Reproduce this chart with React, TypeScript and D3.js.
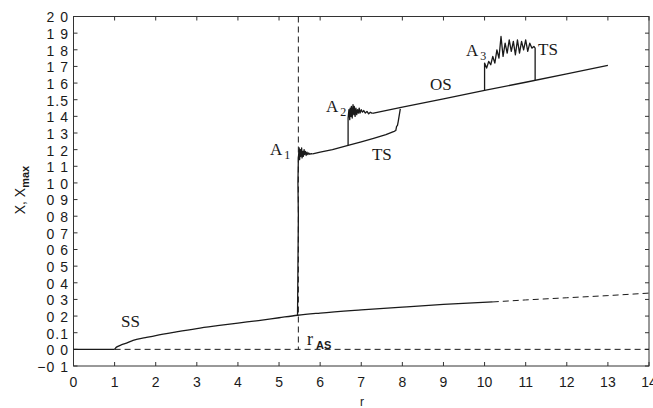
import React from 'react';
import * as d3 from 'd3';

const W = 653;
const H = 408;

const xTicks = [0, 1, 2, 3, 4, 5, 6, 7, 8, 9, 10, 11, 12, 13, 14];
const yTicks = [-0.1, 0, 0.1, 0.2, 0.3, 0.4, 0.5, 0.6, 0.7, 0.8, 0.9, 1.0, 1.1, 1.2, 1.3, 1.4, 1.5, 1.6, 1.7, 1.8, 1.9, 2.0];
const yTickLabels = ['−0 1', '0 0', '0.1', '0 2', '0 3', '0 4', '0 5', '0 6', '0 7', '0 8', '0 9', '1 0', '1 1', '1 2', '1 3', '1 4', '1.5', '1 6', '1 7', '1 8', '1 9', '2 0'];

// trivial branch X = 0
const zeroSolidR = [0, 1];
const zeroSolidX = [0, 0];
const zeroDashR = [1, 14];
const zeroDashX = [0, 0];

// SS branch
const ssR = [1, 1.03, 1.08, 1.15, 1.25, 1.45, 1.75, 2, 2.5, 3, 3.5, 4, 4.5, 5, 5.45, 6, 7, 8, 9, 10.2];
const ssX = [0, 0.01, 0.018, 0.026, 0.034, 0.054, 0.07, 0.083, 0.105, 0.125, 0.142, 0.158, 0.173, 0.19, 0.205, 0.218, 0.237, 0.254, 0.27, 0.285];
const ssDashR = [10.2, 11, 12, 13, 14];
const ssDashX = [0.285, 0.297, 0.31, 0.323, 0.338];

// jump at r_AS
const rAS = 5.47;
const jumpR = [5.45, 5.46, 5.47, 5.46, 5.47];
const jumpX = [0.205, 0.5, 0.8, 1.0, 1.15];

// A1 attractor
const a1R = [5.47, 5.49, 5.5, 5.52, 5.53, 5.55, 5.56, 5.58, 5.59, 5.61, 5.62, 5.64, 5.66, 5.68, 5.7, 5.72, 5.75, 5.78, 5.82];
const a1X = [1.15, 1.21, 1.14, 1.2, 1.16, 1.21, 1.15, 1.19, 1.16, 1.2, 1.17, 1.19, 1.165, 1.185, 1.17, 1.18, 1.172, 1.176, 1.175];

// TS branch (lower)
const tsR = [5.82, 6.0, 6.3, 6.68, 7.0, 7.3, 7.6, 7.8, 7.84, 7.86, 7.88, 7.9, 7.92, 7.95];
const tsX = [1.175, 1.185, 1.2, 1.225, 1.247, 1.268, 1.29, 1.31, 1.315, 1.34, 1.345, 1.37, 1.4, 1.445];

// A2 attractor
const a2R = [6.68, 6.68, 6.7, 6.72, 6.73, 6.75, 6.76, 6.78, 6.8, 6.82, 6.83, 6.85, 6.87, 6.89, 6.91, 6.93, 6.95, 6.97, 7.0, 7.03, 7.06, 7.1, 7.14, 7.18, 7.22, 7.27];
const a2X = [1.225, 1.39, 1.44, 1.38, 1.45, 1.4, 1.46, 1.39, 1.47, 1.41, 1.46, 1.4, 1.45, 1.41, 1.44, 1.42, 1.45, 1.42, 1.44, 1.425, 1.435, 1.42, 1.43, 1.415, 1.425, 1.418];

// OS branch
const osR = [7.27, 8, 9, 10, 11, 12, 13];
const osX = [1.418, 1.455, 1.505, 1.556, 1.605, 1.655, 1.706];

// A3 attractor
const a3R = [10.0, 10.0, 10.05, 10.1, 10.15, 10.2, 10.25, 10.3, 10.35, 10.4, 10.45, 10.5, 10.55, 10.6, 10.65, 10.7, 10.75, 10.8, 10.85, 10.9, 10.95, 11.0, 11.05, 11.1, 11.15, 11.2, 11.23, 11.23];
const a3X = [1.556, 1.72, 1.69, 1.73, 1.71, 1.76, 1.72, 1.8, 1.75, 1.88, 1.76, 1.84, 1.78, 1.86, 1.79, 1.85, 1.77, 1.86, 1.78, 1.85, 1.8, 1.86, 1.79, 1.84, 1.81, 1.82, 1.81, 1.616];

// curve labels (anchored at r, X)
const notes = [
  { text: 'A', sub: '1', r: 4.78, x: 1.167 },
  { text: 'A', sub: '2', r: 6.14, x: 1.426 },
  { text: 'A', sub: '3', r: 9.55, x: 1.763 },
  { text: 'TS', sub: '', r: 7.26, x: 1.138 },
  { text: 'OS', sub: '', r: 8.67, x: 1.56 },
  { text: 'TS', sub: '', r: 11.3, x: 1.77 },
  { text: 'SS', sub: '', r: 1.155, x: 0.135 },
];

const pts = (rs: number[], xs: number[]) => rs.map((r, i) => [r, xs[i]] as [number, number]);

export default function App() {
  const x = d3.scaleLinear().domain([0, 14]).range([73.5, 649]);
  const y = d3.scaleLinear().domain([-0.1, 2.0]).range([366, 16.5]);
  const line = d3.line<[number, number]>().x(d => x(d[0])).y(d => y(d[1]));
  const smooth = d3.line<[number, number]>().x(d => x(d[0])).y(d => y(d[1])).curve(d3.curveMonotoneX);

  const solid = [
    pts(zeroSolidR, zeroSolidX),
    pts(jumpR, jumpX),
    pts(a1R, a1X),
    pts(tsR, tsX),
    pts(a2R, a2X),
    pts(osR, osX),
    pts(a3R, a3X),
  ];
  const dashed = [
    pts(zeroDashR, zeroDashX),
    pts(ssDashR, ssDashX),
    pts([rAS, rAS], [2.0, 0]),
  ];

  const [x0, x1] = x.range();
  const [yb, yt] = y.range();
  const ink = '#1a1a1a';
  const sans = '"Liberation Sans", Arial, sans-serif';
  const serif = '"Liberation Serif", "Times New Roman", serif';

  return (
    <svg width={W} height={H} style={{ position: 'absolute', left: 0, top: 0, background: '#fff' }}>
      {/* frame */}
      <rect x={x0} y={yt} width={x1 - x0} height={yb - yt} fill="none" stroke="#333" strokeWidth={1} />
      {xTicks.map(t => (
        <g key={'xt' + t}>
          <line x1={x(t)} x2={x(t)} y1={yb} y2={yb - 4} stroke="#333" />
          <line x1={x(t)} x2={x(t)} y1={yt} y2={yt + 4} stroke="#333" />
          <text x={x(t)} y={387} textAnchor="middle" fontFamily={sans} fontSize={14} fill={ink}>{t}</text>
        </g>
      ))}
      {yTicks.map((t, i) => (
        <g key={'yt' + i}>
          <line x1={x0} x2={x0 + 4} y1={y(t)} y2={y(t)} stroke="#333" />
          <line x1={x1} x2={x1 - 4} y1={y(t)} y2={y(t)} stroke="#333" />
          <text x={69} y={y(t) + 1} dy="0.35em" textAnchor="end" fontFamily={sans} fontSize={14} letterSpacing={1} fill={ink}>{yTickLabels[i]}</text>
        </g>
      ))}

      {/* axis titles */}
      <text x={362} y={406} textAnchor="middle" fontFamily={sans} fontSize={12} fill={ink}>r</text>
      <text transform="translate(25,190) rotate(-90)" textAnchor="middle" fontFamily={sans} fontSize={14} fill={ink}>
        X, X<tspan fontSize={11} fontWeight="bold" dy={4}>max</tspan>
      </text>

      {/* curves */}
      {dashed.map((d, i) => (
        <path key={'d' + i} d={line(d) || ''} fill="none" stroke={ink} strokeWidth={1} strokeDasharray="6,4" />
      ))}
      <path d={smooth(pts(ssR, ssX)) || ''} fill="none" stroke={ink} strokeWidth={1.3} />
      {solid.map((d, i) => (
        <path key={'s' + i} d={line(d) || ''} fill="none" stroke={ink} strokeWidth={1.3} strokeLinejoin="round" />
      ))}

      {/* labels */}
      {notes.map((n, i) => (
        <text key={'n' + i} x={x(n.r)} y={y(n.x)} fontFamily={serif} fontSize={17} fill={ink}>
          {n.text}
          {n.sub && <tspan fontSize={12} dx={2} dy={4}>{n.sub}</tspan>}
        </text>
      ))}
      <text x={x(5.68)} y={y(0.027)} fontFamily={serif} fontSize={18} fill={ink}>
        r<tspan fontFamily={sans} fontWeight="bold" fontSize={11} dx={3} dy={4}>AS</tspan>
      </text>
    </svg>
  );
}
